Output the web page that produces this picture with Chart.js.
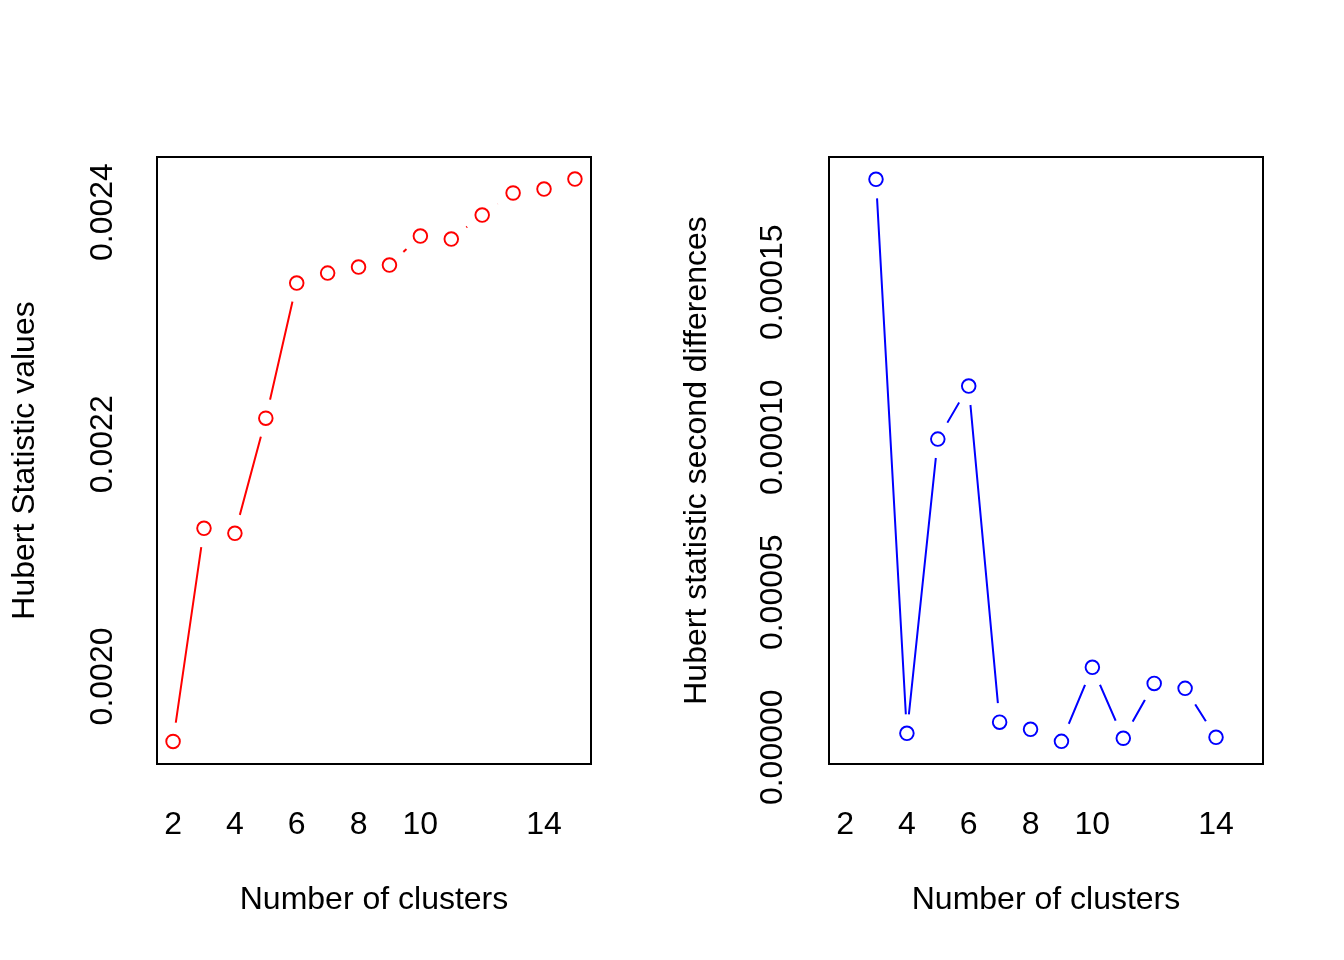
<!DOCTYPE html>
<html>
<head>
<meta charset="utf-8">
<script src="https://cdn.jsdelivr.net/npm/chart.js@4"></script>
<style>
  html, body { margin: 0; padding: 0; background: #ffffff; }
  #wrap { display: flex; width: 1344px; height: 960px; }
  canvas { display: block; }
</style>
</head>
<body>
<div id="wrap">
  <canvas id="left" width="672" height="960"></canvas>
  <canvas id="right" width="672" height="960"></canvas>
</div>
<script>
// ---- data ----
const leftClusters = [2, 3, 4, 5, 6, 7, 8, 9, 10, 11, 12, 13, 14, 15];
const hubertValues = [0.001944, 0.0021276, 0.0021233, 0.0022224, 0.0023388, 0.0023474, 0.0023526,
                      0.0023543, 0.0023793, 0.0023767, 0.0023974, 0.0024164, 0.0024198, 0.0024284];
const rightClusters = [3, 4, 5, 6, 7, 8, 9, 10, 11, 12, 13, 14];
const secondDiffs = [0.0001832, 0.0000045, 0.0000994, 0.0001165, 0.0000081, 0.0000058,
                     0.0000019, 0.0000258, 0.0000029, 0.0000206, 0.0000190, 0.0000032];
const xTickValues = [2, 4, 6, 8, 10, 14];
const leftYTicks = [0.0020, 0.0022, 0.0024];
const rightYTicks = [0.00000, 0.00005, 0.00010, 0.00015];
const leftYTickLabels = ['0.0020', '0.0022', '0.0024'];
const rightYTickLabels = ['0.00000', '0.00005', '0.00010', '0.00015'];

const FONT = "'Liberation Sans', Arial, Helvetica, sans-serif";

const framePlugin = {
  id: 'frame',
  afterDatasetsDraw(chart) {
    const a = chart.chartArea;
    const ctx = chart.ctx;
    ctx.save();
    ctx.strokeStyle = '#000000';
    ctx.lineWidth = 2;
    ctx.strokeRect(a.left, a.top, a.right - a.left, a.bottom - a.top);
    ctx.restore();
  }
};

function makeChart(id, xs, ys, color, yMin, yMax, yTicks, yTickLabels, yTitle, yPad) {
  const pts = xs.map((x, i) => ({ x: x, y: ys[i] }));
  return new Chart(document.getElementById(id), {
    type: 'line',
    data: {
      datasets: [
        { data: pts, showLine: false, pointRadius: 6.8, pointBorderWidth: 1.9,
          pointBorderColor: color, pointBackgroundColor: '#ffffff', order: 0 },
        { data: pts, showLine: false, pointRadius: 19.1, pointBorderWidth: 0,
          pointBorderColor: 'rgba(0,0,0,0)', pointBackgroundColor: '#ffffff', order: 1 },
        { data: pts, showLine: true, pointRadius: 0, borderColor: color, borderWidth: 2,
          tension: 0, fill: false, order: 2 }
      ]
    },
    options: {
      responsive: false,
      animation: false,
      events: [],
      layout: { padding: { top: 157, right: 81, left: 0, bottom: 0 } },
      plugins: { legend: { display: false }, tooltip: { enabled: false } },
      scales: {
        x: {
          type: 'linear', min: 1.48, max: 15.52,
          afterBuildTicks: (s) => { s.ticks = xTickValues.map(v => ({ value: v })); },
          afterFit: (s) => { s.height = 196; },
          grid: { display: false, drawTicks: false },
          border: { display: false },
          ticks: { color: '#000000', font: { family: FONT, size: 32 }, padding: 42,
                    maxRotation: 0, minRotation: 0, autoSkip: false,
                    callback: (v) => String(v) },
          title: { display: true, text: 'Number of clusters', color: '#000000',
                   font: { family: FONT, size: 32 }, padding: { top: 0, bottom: 41 } }
        },
        y: {
          type: 'linear', min: yMin, max: yMax,
          afterBuildTicks: (s) => { s.ticks = yTicks.map(v => ({ value: v })); },
          afterFit: (s) => { s.width = 157; },
          grid: { display: false, drawTicks: false },
          border: { display: false },
          ticks: { color: '#000000', font: { family: FONT, size: 32 }, padding: yPad,
                   minRotation: 90, maxRotation: 90, crossAlign: 'center', autoSkip: false,
                   callback: (v) => yTickLabels[yTicks.findIndex(t => Math.abs(t - v) < 1e-12)] },
          title: { display: true, text: yTitle, color: '#000000',
                   font: { family: FONT, size: 32 }, padding: { top: 6, bottom: 0 } }
        }
      }
    },
    plugins: [framePlugin]
  });
}

makeChart('left', leftClusters, hubertValues, '#ff0000', 0.0019246, 0.0024474,
          leftYTicks, leftYTickLabels, 'Hubert Statistic values', 5);
makeChart('right', rightClusters, secondDiffs, '#0000ff', -0.0000054, 0.0001904,
          rightYTicks, rightYTickLabels, 'Hubert statistic second differences', -2);
</script>
</body>
</html>
